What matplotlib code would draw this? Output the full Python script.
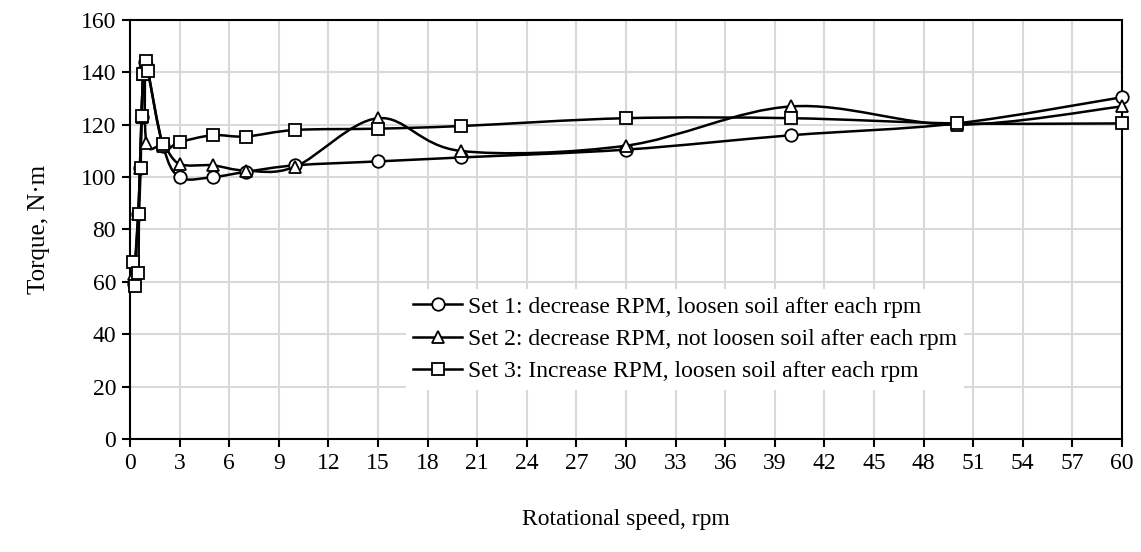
import numpy as np
import matplotlib
matplotlib.use("Agg")
from matplotlib import pyplot as plt
from matplotlib.path import Path
from matplotlib.patches import PathPatch
from matplotlib.lines import Line2D

plt.rcParams['font.family'] = ['Liberation Serif', 'DejaVu Serif']

# Set 1: decrease RPM, loosen soil after each rpm
rpm_1 = [0.25, 0.5, 0.6, 0.7, 0.8, 0.9, 1.0, 2, 3, 5, 7, 10, 15, 20, 30, 40, 50, 60]
torque_1 = [59, 86, 103.5, 123, 139.5, 144, 143, 112, 100, 100, 102, 104.5, 106, 107.5, 110.5, 116, 120.5, 130.5]

# Set 2: decrease RPM, not loosen soil after each rpm
rpm_2 = [0.25, 0.5, 0.6, 0.7, 0.8, 0.9, 1.0, 2, 3, 5, 7, 10, 15, 20, 30, 40, 50, 60]
torque_2 = [63, 86, 103.5, 123, 139.5, 144, 113, 112, 105, 104.5, 102.5, 104, 122.5, 110, 112, 127, 120, 127]

# Set 3: Increase RPM, loosen soil after each rpm
rpm_3 = [0.2, 0.3, 0.5, 0.55, 0.65, 0.7, 0.8, 0.95, 1.1, 2, 3, 5, 7, 10, 15, 20, 30, 40, 50, 60]
torque_3 = [67.5, 58.5, 63.5, 86, 103.5, 123.5, 139.5, 144.5, 140.5, 112.5, 113.5, 116, 115.5, 118, 118.5, 119.5, 122.5, 122.5, 120.5, 120.5]

labels = ["Set 1: decrease RPM, loosen soil after each rpm",
          "Set 2: decrease RPM, not loosen soil after each rpm",
          "Set 3: Increase RPM, loosen soil after each rpm"]
markers = ["o", "^", "s"]


def smooth_path(xs, ys):
    """Excel-like smoothed line as cubic Bezier segments."""
    pts = np.column_stack([xs, ys]).astype(float)
    n = len(pts)
    verts = [pts[0]]
    codes = [Path.MOVETO]
    for i in range(n - 1):
        p0 = pts[i - 1] if i > 0 else pts[i]
        p1 = pts[i]
        p2 = pts[i + 1]
        p3 = pts[i + 2] if i + 2 < n else pts[i + 1]
        c1 = p1 + (p2 - p0) / 6.0
        c2 = p2 - (p3 - p1) / 6.0
        verts += [c1, c2, p2]
        codes += [Path.CURVE4] * 3
    return Path(verts, codes)


fig = plt.figure(figsize=(11.41, 5.52), dpi=100)
ax = fig.add_axes([0.1139, 0.2047, 0.8695, 0.7591])

series = [(rpm_1, torque_1), (rpm_2, torque_2), (rpm_3, torque_3)]
handles = []
for (x, y), m, lab in zip(series, markers, labels):
    ax.add_patch(PathPatch(smooth_path(x, y), facecolor="none", edgecolor="black", lw=1.8, zorder=3))
    ax.plot(x, y, linestyle="none", marker=m, markersize=9, markerfacecolor="white",
            markeredgecolor="black", markeredgewidth=1.3, zorder=4, clip_on=False)
    handles.append(Line2D([], [], color="black", lw=1.8, marker=m, markersize=9,
                          markerfacecolor="white", markeredgecolor="black", markeredgewidth=1.3))

ax.set_xlim(0, 60)
ax.set_ylim(0, 160)
ax.set_xticks(np.arange(0, 61, 3))
ax.set_yticks(np.arange(0, 161, 20))
ax.grid(True, color="#d9d9d9", lw=1.5)
ax.set_axisbelow(True)
for s in ax.spines.values():
    s.set_color("black")
    s.set_linewidth(1.5)
ax.tick_params(direction="out", length=6, width=1.5, labelsize=17, pad=4)

ax.set_xlabel("Rotational speed, rpm", fontsize=17, labelpad=25)
ax.set_ylabel("Torque, N·m", fontsize=18, labelpad=22)

leg = ax.legend(handles, labels, loc="center left", bbox_to_anchor=(0.266, 0.238),
                fontsize=17, frameon=True, fancybox=False, edgecolor="none",
                framealpha=1, handlelength=2.1, handletextpad=0.25,
                labelspacing=0.46, borderpad=0.3)

fig.savefig("out.png", dpi=100)
